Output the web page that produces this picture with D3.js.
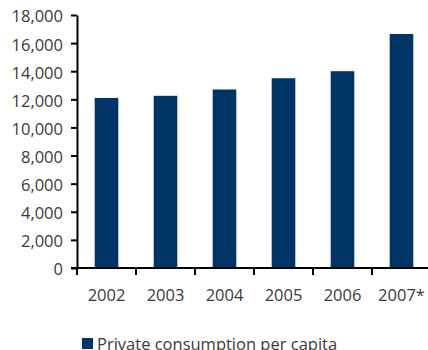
<!DOCTYPE html>
<html>
<head>
<meta charset="utf-8">
<script src="https://cdn.jsdelivr.net/npm/d3@7"></script>
<style>
  html, body { margin: 0; padding: 0; background: #fff; }
  svg { display: block; }
  .axis text { font-family: "Open Sans", sans-serif; font-size: 16.5px; fill: #3a3a3a; }
  .axis path, .axis line { stroke: #000; }
</style>
</head>
<body>
<svg id="chart" width="428" height="350"></svg>
<script>
// Private consumption per capita, by year
const years = ["2002", "2003", "2004", "2005", "2006", "2007*"];
const consumption = [12100, 12250, 12700, 13500, 14000, 16650];
const yTicks = [0, 2000, 4000, 6000, 8000, 10000, 12000, 14000, 16000, 18000];
const seriesName = "Private consumption per capita";

const barColor = "#003366";
const svg = d3.select("#chart");

const plot = { left: 77, right: 431, top: 15, bottom: 268 };

const x = d3.scaleBand()
  .domain(years)
  .range([plot.left, plot.right])
  .paddingInner(0.6)
  .paddingOuter(0.3);

const y = d3.scaleLinear()
  .domain([0, 18000])
  .range([plot.bottom, plot.top]);

// Bars
svg.append("g")
  .selectAll("rect")
  .data(years.map((yr, i) => ({ yr, v: consumption[i] })))
  .join("rect")
  .attr("x", d => x(d.yr))
  .attr("y", d => y(d.v))
  .attr("width", x.bandwidth())
  .attr("height", d => y(0) - y(d.v))
  .attr("fill", barColor);

// Y axis
const yAxis = svg.append("g")
  .attr("class", "axis")
  .attr("transform", `translate(${plot.left},0)`)
  .call(d3.axisLeft(y).tickValues(yTicks).tickFormat(d3.format(",")).tickSize(6).tickSizeOuter(0).tickPadding(8));
yAxis.select(".domain").attr("stroke-width", 2);
yAxis.selectAll(".tick line").attr("stroke-width", 2);
yAxis.selectAll("text").attr("dy", "0.42em");

// X axis: ticks on band boundaries, labels centred in each band
const step = x.step();
const boundaries = years.map((yr, i) => plot.left + i * step);
const xAxis = svg.append("g")
  .attr("class", "axis")
  .attr("transform", `translate(0,${plot.bottom})`);
xAxis.append("line")
  .attr("x1", plot.left - 6).attr("x2", 428)
  .attr("stroke", "#000").attr("stroke-width", 2);
xAxis.selectAll("line.tk")
  .data(boundaries)
  .join("line")
  .attr("class", "tk")
  .attr("x1", d => d).attr("x2", d => d)
  .attr("y1", 0).attr("y2", 7)
  .attr("stroke", "#000").attr("stroke-width", 2);
xAxis.selectAll("text")
  .data(years)
  .join("text")
  .attr("x", d => x(d) + x.bandwidth() / 2)
  .attr("y", 33)
  .attr("text-anchor", "middle")
  .text(d => d);

// Legend
const legend = svg.append("g").attr("transform", "translate(82,338)");
legend.append("rect")
  .attr("width", 11).attr("height", 11)
  .attr("fill", barColor);
legend.append("text")
  .attr("x", 15).attr("y", 12)
  .attr("font-family", "Open Sans, sans-serif")
  .attr("font-size", "16.5px")
  .attr("fill", "#3a3a3a")
  .text(seriesName);
</script>
</body>
</html>
